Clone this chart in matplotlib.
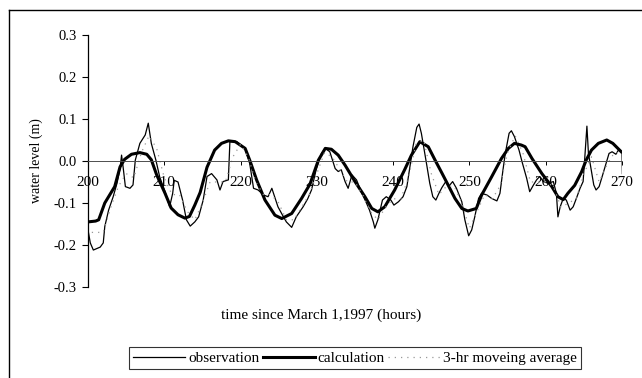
import matplotlib.pyplot as plt
from matplotlib.lines import Line2D

# observation (thin line)
obs_t = [200.0, 200.3, 200.7, 201.6, 202.0, 202.2, 202.7, 203.3, 203.8, 204.2, 204.4, 204.6,
         204.9, 205.5, 205.9, 206.2, 206.8, 207.5, 207.9, 208.3, 208.9, 209.4, 210.1, 210.7,
         211.1, 211.3, 211.8, 212.4, 212.9, 213.4, 214.0, 214.5, 215.1, 215.6, 216.2, 216.9,
         217.3, 217.7, 218.4, 218.6, 219.5, 220.6, 221.2, 221.7, 222.3, 223.0, 223.6, 224.1,
         224.9, 225.5, 226.0, 226.7, 227.3, 228.2, 228.8, 229.3, 229.9, 230.6, 231.1, 231.7,
         232.4, 232.8, 233.2, 233.7, 234.1, 234.6, 235.2, 235.9, 236.5, 236.9, 237.4, 237.6,
         238.0, 238.6, 239.1, 239.7, 240.1, 240.7, 241.3, 241.8, 242.2, 242.6, 243.1, 243.4,
         243.7, 244.0, 244.4, 244.8, 245.2, 245.6, 246.0, 246.4, 246.9, 247.3, 247.8, 248.3,
         249.0, 249.4, 249.9, 250.3, 250.7, 251.2, 251.6, 252.3, 252.9, 253.6, 254.0, 254.4,
         254.7, 255.2, 255.5, 255.9, 256.5, 256.9, 257.5, 257.9, 258.4, 258.8, 259.2, 259.7,
         260.3, 261.0, 261.4, 261.6, 261.9, 262.3, 262.7, 263.2, 263.6, 264.1, 264.5, 264.9,
         265.1, 265.4, 265.6, 266.0, 266.3, 266.6, 267.0, 267.4, 267.9, 268.3, 268.7, 269.2,
         269.6, 270.0, 270.05]
obs_v = [-0.164, -0.195, -0.212, -0.205, -0.195, -0.156, -0.117, -0.085, -0.053, -0.018, 0.014, -0.014,
         -0.061, -0.065, -0.057, 0.002, 0.042, 0.062, 0.090, 0.042, 0.002, -0.038, -0.073, -0.109,
         -0.077, -0.046, -0.050, -0.093, -0.140, -0.155, -0.145, -0.133, -0.093, -0.037, -0.030, -0.045,
         -0.069, -0.049, -0.045, 0.046, 0.046, 0.030, -0.006, -0.065, -0.069, -0.081, -0.085, -0.065,
         -0.109, -0.129, -0.145, -0.158, -0.133, -0.109, -0.090, -0.069, -0.021, 0.018, 0.030, 0.022,
         -0.018, -0.025, -0.021, -0.049, -0.065, -0.033, -0.045, -0.077, -0.100, -0.117, -0.145, -0.160,
         -0.140, -0.093, -0.085, -0.093, -0.105, -0.097, -0.085, -0.061, -0.013, 0.034, 0.080, 0.088,
         0.066, 0.034, -0.009, -0.053, -0.085, -0.093, -0.077, -0.063, -0.049, -0.060, -0.049, -0.065,
         -0.097, -0.140, -0.178, -0.164, -0.133, -0.089, -0.077, -0.081, -0.089, -0.095, -0.077, -0.021,
         0.018, 0.066, 0.072, 0.058, 0.026, -0.002, -0.041, -0.073, -0.057, -0.045, -0.037, -0.049,
         -0.053, -0.049, -0.077, -0.133, -0.109, -0.089, -0.093, -0.117, -0.109, -0.085, -0.065, -0.049,
         0.002, 0.083, 0.018, -0.025, -0.057, -0.069, -0.061, -0.037, -0.006, 0.018, 0.022, 0.016,
         0.028, 0.022, -0.030]

# calculation (thick line)
calc_t = [200.0, 201.0, 201.4, 202.2, 203.5, 204.2, 204.8, 205.7, 206.8, 207.7, 208.3, 209.0,
          210.1, 210.9, 211.8, 212.7, 213.3, 214.0, 214.7, 215.6, 216.6, 217.5, 218.4, 219.3,
          220.6, 221.2, 222.1, 223.2, 224.5, 225.4, 226.7, 228.0, 229.1, 230.2, 231.1, 231.9,
          232.8, 233.7, 235.0, 236.3, 237.2, 238.0, 238.9, 240.2, 241.5, 242.4, 243.5, 244.6,
          245.5, 246.4, 247.2, 248.1, 249.0, 249.8, 250.9, 251.6, 252.9, 254.2, 255.1, 255.9,
          256.8, 257.3, 258.2, 259.5, 260.8, 261.6, 262.3, 262.9, 263.8, 264.7, 265.3, 266.0,
          266.9, 268.0, 268.8, 269.9]
calc_v = [-0.145, -0.143, -0.140, -0.100, -0.061, -0.014, 0.004, 0.016, 0.020, 0.016, 0.003, -0.033,
          -0.077, -0.112, -0.128, -0.136, -0.132, -0.105, -0.075, -0.015, 0.026, 0.042, 0.048, 0.046,
          0.030, 0.002, -0.045, -0.093, -0.129, -0.137, -0.125, -0.089, -0.055, 0.002, 0.030, 0.028,
          0.014, -0.010, -0.049, -0.085, -0.113, -0.121, -0.109, -0.069, -0.021, 0.014, 0.046, 0.034,
          0.002, -0.029, -0.057, -0.089, -0.113, -0.119, -0.113, -0.081, -0.038, 0.006, 0.030, 0.042,
          0.038, 0.034, 0.006, -0.030, -0.061, -0.085, -0.092, -0.077, -0.058, -0.026, 0.002, 0.026,
          0.042, 0.050, 0.042, 0.022]

# 3-hr moving average (faint dotted line)
ma_t = [200.5, 202, 203, 204, 205, 206, 207, 208, 209, 210, 211, 212, 213, 214, 215, 216, 217, 218,
        219, 220, 221, 222, 223, 224, 225, 226, 227, 228, 229, 230, 231, 232, 233, 234, 235, 236,
        237, 238, 239, 240, 241, 242, 243, 244, 245, 246, 247, 248, 249, 250, 251, 252, 253, 254,
        255, 256, 257, 258, 259, 260, 261, 262, 263, 264, 265, 266, 267, 268, 269, 270]
ma_v = [-0.17, -0.17, -0.11, -0.06, -0.03, -0.04, 0.02, 0.06, 0.03, -0.04, -0.08, -0.08, -0.12, -0.14,
        -0.10, -0.05, -0.05, -0.05, 0.01, 0.04, 0.01, -0.05, -0.08, -0.08, -0.10, -0.14, -0.14, -0.11,
        -0.08, -0.03, 0.02, 0.01, -0.02, -0.05, -0.05, -0.08, -0.12, -0.14, -0.11, -0.09, -0.09, -0.04,
        0.04, 0.05, -0.03, -0.08, -0.06, -0.06, -0.10, -0.16, -0.12, -0.08, -0.09, -0.06, 0.02, 0.06,
        0.02, -0.05, -0.05, -0.05, -0.06, -0.11, -0.10, -0.09, -0.03, 0.01, -0.05, -0.01, 0.02, 0.02]

x_ticks = [200, 210, 220, 230, 240, 250, 260, 270]
y_ticks = [-0.3, -0.2, -0.1, 0.0, 0.1, 0.2, 0.3]

plt.rcParams['font.family'] = ['Liberation Serif', 'DejaVu Serif']

fig = plt.figure(figsize=(6.42, 3.78), dpi=100)
ax = fig.add_axes([88 / 642, 1 - 287 / 378, (622 - 88) / 642, (287 - 35) / 378])

ax.plot(obs_t, obs_v, color='black', lw=0.9, label='observation')
ax.plot(calc_t, calc_v, color='black', lw=2.2, label='calculation')
ax.plot(ma_t, ma_v, color='0.6', lw=0.9, ls=(0, (1, 4)), label='3-hr moveing average')

ax.set_xlim(200, 270)
ax.set_ylim(-0.3, 0.3)
ax.set_xticks(x_ticks)
ax.set_yticks(y_ticks)
ax.set_yticklabels([f'{v:.1f}' for v in y_ticks])

ax.spines['top'].set_visible(False)
ax.spines['right'].set_visible(False)
ax.spines['bottom'].set_position(('data', 0))
ax.spines['bottom'].set_linewidth(0.7)
ax.spines['bottom'].set_color('0.3')
ax.spines['left'].set_linewidth(0.9)
ax.tick_params(axis='x', direction='out', length=3, width=0.7, pad=8, labelsize=11)
ax.tick_params(axis='y', direction='out', length=4, width=0.8, pad=4, labelsize=10.5)

ax.set_ylabel('water level (m)', fontsize=10, labelpad=8)
fig.text(0.5, 1 - 315 / 378, 'time since March 1,1997 (hours)', ha='center', va='center', fontsize=11)

leg = fig.legend(loc='center', bbox_to_anchor=(355 / 642, 1 - 358 / 378), ncol=3, fontsize=11,
                 frameon=True, fancybox=False, edgecolor='black', handlelength=3.4,
                 handletextpad=0.2, columnspacing=0.2, borderpad=0.3, borderaxespad=0)
leg.get_frame().set_linewidth(0.8)

# outer frame (top and left edges visible)
fig.add_artist(Line2D([9 / 642, 1], [1 - 10 / 378, 1 - 10 / 378], color='black', lw=1.0))
fig.add_artist(Line2D([9 / 642, 9 / 642], [0, 1 - 10 / 378], color='black', lw=1.0))

fig.savefig('out.png', dpi=100)
